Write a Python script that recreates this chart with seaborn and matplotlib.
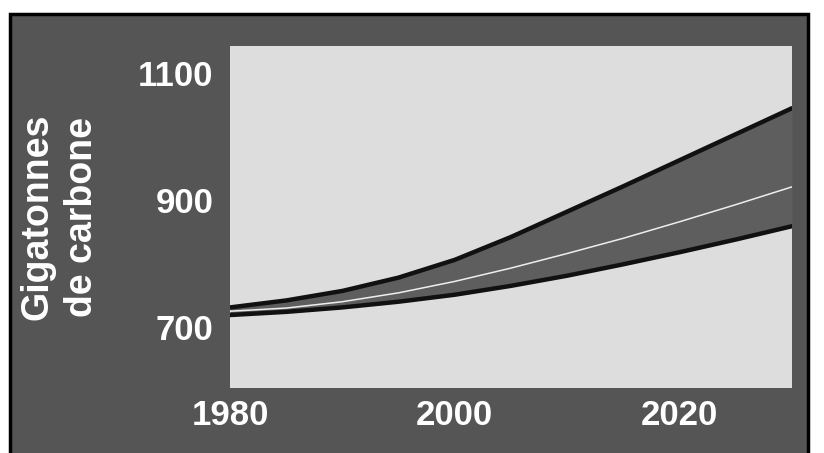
import numpy as np
import pandas as pd
import seaborn as sns
import matplotlib.pyplot as plt
from matplotlib.patches import Rectangle

# valeurs (gigatonnes de carbone)
annees = [1980, 1985, 1990, 1995, 2000, 2005, 2010, 2015, 2020, 2025, 2030]
haut = [731, 742, 757, 778, 806, 842, 882, 922, 963, 1004, 1045]
milieu = [725, 730, 740, 754, 772, 793, 816, 840, 866, 893, 921]
bas = [719, 724, 731, 740, 751, 765, 781, 799, 818, 838, 859]

xticks = [1980, 2000, 2020]
yticks = [700, 900, 1100]
ylabel = "Gigatonnes\nde carbone"

df = pd.DataFrame({"annee": annees, "haut": haut, "milieu": milieu, "bas": bas})

sns.set_style("white")
plt.rcParams['font.family'] = ['Liberation Sans', 'DejaVu Sans']

fig = plt.figure(figsize=(8.24, 4.53), dpi=100, facecolor="white")
# cadre sombre
cadre = Rectangle((10 / 824, -0.01), 798 / 824, 1 - 14 / 453 + 0.01,
                  transform=fig.transFigure, facecolor="#555555",
                  edgecolor="black", lw=2.5, zorder=-10)
fig.add_artist(cadre)

ax = fig.add_axes([230 / 824, 65 / 453, 562 / 824, 342 / 453])
ax.set_facecolor("#dddddd")

ax.fill_between(df["annee"], df["bas"], df["haut"], color="#5e5e5e", lw=0)
sns.lineplot(data=df, x="annee", y="haut", ax=ax, color="#111111", lw=3.2)
sns.lineplot(data=df, x="annee", y="bas", ax=ax, color="#111111", lw=3.2)
sns.lineplot(data=df, x="annee", y="milieu", ax=ax, color="#eeeeee", lw=1.1)

ax.set_xlim(1980, 2030)
ax.set_ylim(604, 1143)
ax.set_xticks(xticks)
ax.set_yticks(yticks)
ax.set_xticklabels([str(t) for t in xticks])
ax.set_yticklabels([str(t) for t in yticks])
ax.tick_params(length=0, labelcolor="white", labelsize=25)
ax.tick_params(axis="x", pad=8)
ax.tick_params(axis="y", pad=12)
for lab in ax.get_xticklabels() + ax.get_yticklabels():
    lab.set_fontweight("bold")
ax.set_xlabel("")
ax.set_ylabel("")
for s in ax.spines.values():
    s.set_visible(False)

fig.text(60 / 824, 1 - 217 / 453, ylabel, rotation=90, ha="center", va="center",
         multialignment="center", color="white", fontsize=27, fontweight="bold",
         linespacing=1.3)

fig.savefig("out.png", dpi=100, facecolor="white")
